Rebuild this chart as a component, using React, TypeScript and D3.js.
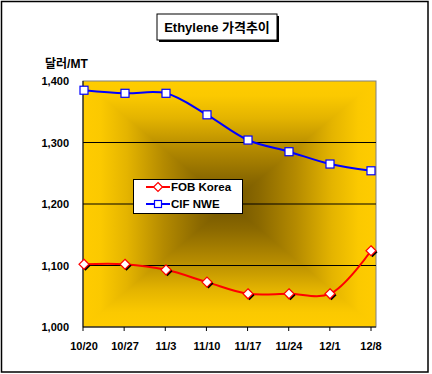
import React from "react";
import * as d3 from "d3";

// weekly price data, 달러/MT
const weeks = ["10/20", "10/27", "11/3", "11/10", "11/17", "11/24", "12/1", "12/8"];
const fobKorea = [1102, 1102, 1093, 1073, 1054, 1054, 1054, 1124];
const cifNwe = [1385, 1380, 1380, 1345, 1304, 1285, 1265, 1254];
const yTicks = [1000, 1100, 1200, 1300, 1400];

const W = 432;
const H = 374;
const plot = { left: 83, right: 376, top: 81, bottom: 327 };
const font = "'Liberation Sans', Arial, 'Noto Sans CJK KR', sans-serif";

// rectangular "from center" fill, edge -> centre
const gradStops: [number, string][] = [
  [0, "#ffcc00"],
  [0.12, "#fbc900"],
  [0.3, "#e4b400"],
  [0.55, "#b48a00"],
  [0.8, "#8a6800"],
  [1, "#705400"],
];

function Stops() {
  // mirrored: edge at 0 and 1, centre at 0.5
  const s = [
    ...gradStops.map(([o, c]) => [o / 2, c] as [number, string]),
    ...gradStops.slice(0, -1).reverse().map(([o, c]) => [1 - o / 2, c] as [number, string]),
  ];
  return (
    <>
      {s.map(([o, c], i) => (
        <stop key={i} offset={o} stopColor={c} />
      ))}
    </>
  );
}

export default function App() {
  const x = d3.scalePoint<string>().domain(weeks).range([plot.left + 1, 371]);
  const y = d3.scaleLinear().domain([1000, 1400]).range([plot.bottom, plot.top]);

  const line = d3
    .line<number>()
    .x((_, i) => x(weeks[i])!)
    .y((d) => y(d))
    .curve(d3.curveCatmullRom.alpha(0.5));

  const diamond = (cx: number, cy: number, r: number) =>
    `M${cx},${cy - r}L${cx + r},${cy}L${cx},${cy + r}L${cx - r},${cy}Z`;

  const { left: L, right: R, top: T, bottom: B } = plot;
  const cx = (L + R) / 2;
  const cy = (T + B) / 2;

  return (
    <svg
      width={W}
      height={H}
      style={{ position: "absolute", left: 0, top: 0, background: "#fff" }}
      fontFamily={font}
    >
      <defs>
        <linearGradient id="gv" gradientUnits="userSpaceOnUse" x1={0} y1={T} x2={0} y2={B}>
          <Stops />
        </linearGradient>
        <linearGradient id="gh" gradientUnits="userSpaceOnUse" x1={L} y1={0} x2={R} y2={0}>
          <Stops />
        </linearGradient>
      </defs>

      {/* outer frame */}
      <rect x={1.5} y={1.5} width={426.5} height={370.5} fill="#fff" stroke="#000" strokeWidth={1.5} />

      {/* title box with shadow */}
      <rect x={159} y={16} width={120} height={26} fill="#000" />
      <rect x={157} y={14} width={120} height={26} fill="#fff" stroke="#000" strokeWidth={1} />
      <text x={217} y={32} textAnchor="middle" fontSize={13} fontWeight="bold">
        Ethylene 가격추이
      </text>

      {/* unit label */}
      <text x={45} y={68} fontSize={12} fontWeight="bold" textAnchor="start">
        달러/MT
      </text>

      {/* plot background */}
      <rect x={L} y={T} width={R - L} height={B - T} fill="url(#gv)" />
      <path d={`M${L},${T}L${cx},${cy}L${L},${B}Z`} fill="url(#gh)" />
      <path d={`M${R},${T}L${cx},${cy}L${R},${B}Z`} fill="url(#gh)" />
      <rect x={L} y={T} width={R - L} height={B - T} fill="none" stroke="#808080" strokeWidth={1} />

      {/* gridlines */}
      {yTicks.slice(1, -1).map((t) => (
        <line key={t} x1={L} x2={R} y1={y(t)} y2={y(t)} stroke="#000" strokeWidth={1} />
      ))}

      {/* axes */}
      <line x1={L} x2={L} y1={T} y2={B} stroke="#000" />
      <line x1={L} x2={R} y1={B} y2={B} stroke="#000" />
      {yTicks.map((t) => (
        <text key={t} x={69} y={y(t) + 4} textAnchor="end" fontSize={11} fontWeight="bold">
          {d3.format(",")(t)}
        </text>
      ))}
      {weeks.map((w, i) => {
        const tx = L + (i * (371 - L)) / (weeks.length - 1);
        return (
          <g key={w}>
            <line x1={tx} x2={tx} y1={B} y2={B + 4} stroke="#000" />
            <text x={x(w)!} y={350} textAnchor="middle" fontSize={11} fontWeight="bold">
              {w}
            </text>
          </g>
        );
      })}

      {/* series */}
      <path d={line(cifNwe)!} fill="none" stroke="#0000ff" strokeWidth={2} />
      <path d={line(fobKorea)!} fill="none" stroke="#ff0000" strokeWidth={2} />

      {cifNwe.map((v, i) => (
        <rect
          key={i}
          x={x(weeks[i])! - 4}
          y={y(v) - 4}
          width={8}
          height={8}
          fill="#fff"
          stroke="#0000ff"
          strokeWidth={1.2}
        />
      ))}
      {fobKorea.map((v, i) => (
        <g key={i}>
          <path d={diamond(x(weeks[i])! + 1.5, y(v) + 1.5, 5)} fill="#000" />
          <path d={diamond(x(weeks[i])!, y(v), 5)} fill="#fff" stroke="#ff0000" strokeWidth={1.2} />
        </g>
      ))}

      {/* legend */}
      <rect x={133.5} y={179.5} width={109} height={34} fill="#fff" stroke="#000" strokeWidth={1} />
      <line x1={146} x2={170} y1={187} y2={187} stroke="#ff0000" strokeWidth={2} />
      <path d={diamond(158, 187, 4.5)} fill="#fff" stroke="#ff0000" strokeWidth={1.2} />
      <text x={171} y={191} fontSize={11.5} fontWeight="bold">
        FOB Korea
      </text>
      <line x1={146} x2={170} y1={204} y2={204} stroke="#0000ff" strokeWidth={2} />
      <rect x={154.5} y={200.5} width={7} height={7} fill="#fff" stroke="#0000ff" strokeWidth={1.2} />
      <text x={171} y={208} fontSize={11.5} fontWeight="bold">
        CIF NWE
      </text>
    </svg>
  );
}
